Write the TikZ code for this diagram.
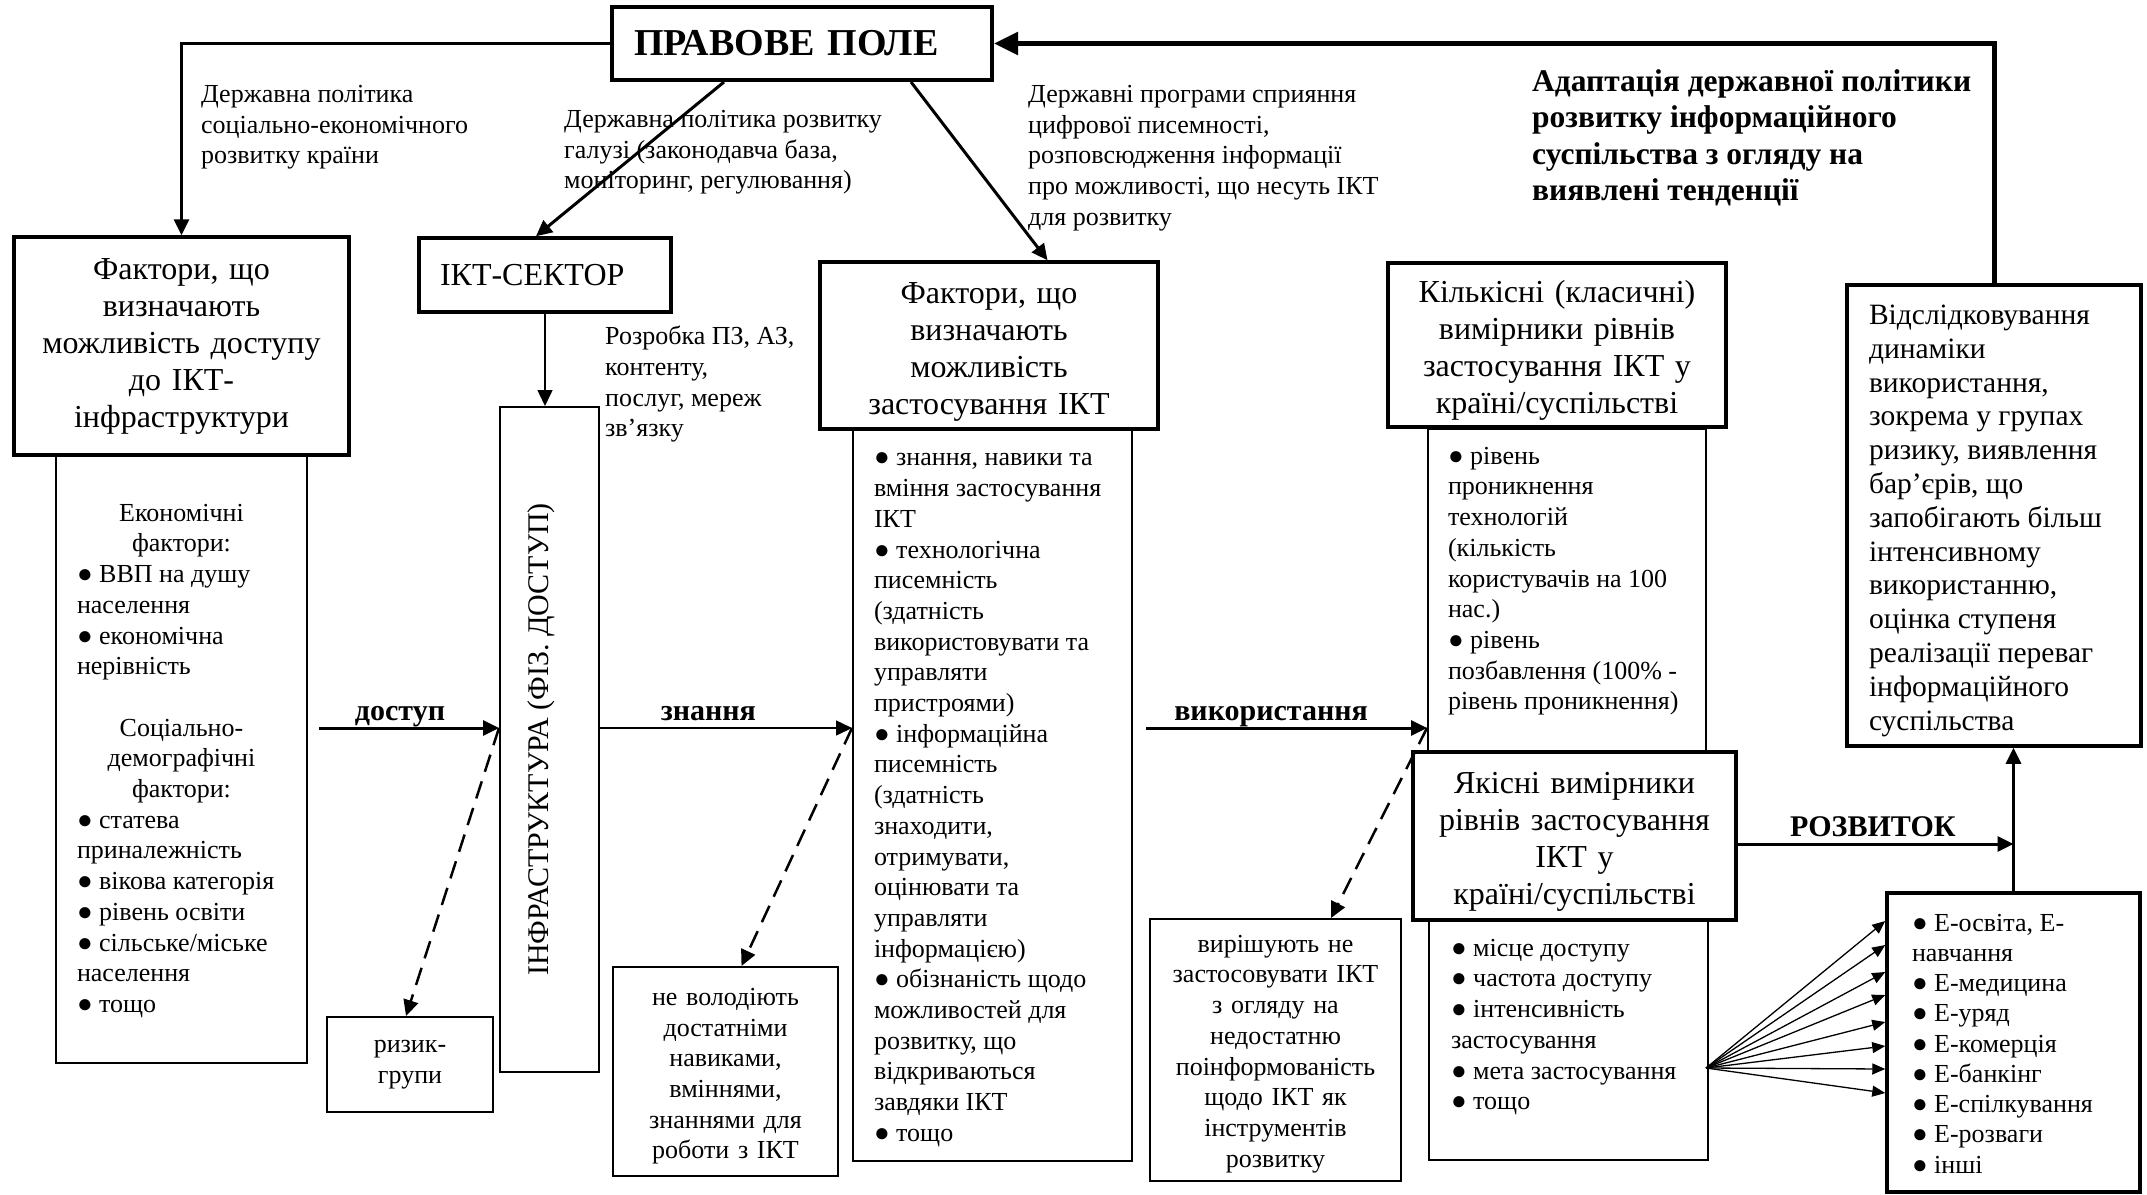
\documentclass[tikz,border=0pt]{standalone}
\usepackage{fontspec}
\setmainfont{Liberation Serif}
\usepackage{graphicx}
\usetikzlibrary{arrows.meta}
\newcommand{\fsz}[2]{\fontsize{#1}{#2}\selectfont}
\newcommand{\topblock}[5]{\parbox[c][#1pt][t]{#2pt}{\raggedright\leftskip=#3pt\relax\vspace*{#4pt}#5}}
\newcommand{\lowr}{\rule{0pt}{33pt}}
\begin{document}
\begin{tikzpicture}[x=1pt,y=-1pt,
  thickbox/.style={draw,line width=3.5pt,inner sep=0pt,align=center},
  thinbox/.style={draw,line width=2pt,inner sep=0pt,align=center},
  bodytxt/.style={font=\fsz{26}{30.7}},
  headtxt/.style={font=\fsz{32}{37}},
  lab/.style={anchor=north west,inner sep=0pt,align=left,font=\fsz{26}{30.7}},
  flowlab/.style={anchor=base,yshift=8pt,inner sep=0pt,font=\bfseries\fsz{30}{34}},
  arrtip/.style={-{Triangle[length=16pt,width=15pt]}},
  arr/.style={arrtip,line width=3pt},
  thinarr/.style={arrtip,line width=1.5pt},
  dasharr/.style={arrtip,line width=2.5pt,dash pattern=on 18pt off 10pt},
  fanarr/.style={-{Triangle[length=13pt,width=11pt]},line width=1.3pt},
  backarr/.style={-{Triangle[length=24pt,width=22pt]},line width=5pt}]
\useasboundingbox (0,0) rectangle (2147,1194);

\node[thickbox,line width=4pt,minimum width=380,minimum height=73,text width=336,align=left,inner xsep=22pt,font=\bfseries\fsz{38}{42}] (pravo) at (802,43.5) {ПРАВОВЕ ПОЛЕ};

\node[thickbox,minimum width=335,minimum height=218,text width=320,headtxt] (acchead) at (181.5,346) {Фактори, що\\визначають\\можливість доступу\\до ІКТ-\\інфраструктури};
\node[thinbox,bodytxt] (accbody) at (181.5,759) {\topblock{608}{251}{21}{49}{{\centering Економічні\\фактори:\par}● ВВП на душу\\населення\\● економічна\\нерівність\par\vspace{30.7pt}{\centering Соціально-\\демографічні\\фактори:\par}● статева\\приналежність\\● вікова категорія\\● рівень освіти\\● сільське/міське\\населення\\● тощо}};

\node[thickbox,minimum height=74,text width=210,align=left,inner xsep=21pt,font=\fsz{32}{36}] (ikt) at (545,275) {ІКТ-СЕКТОР};
\node[thinbox,minimum width=99,minimum height=665,font=\fsz{30}{34}] (infra) at (549.5,739.5) {\rotatebox{90}{ІНФРАСТРУКТУРА (ФІЗ. ДОСТУП)}\hspace{16pt}};
\node[thinbox,minimum width=166,minimum height=95,text width=150,bodytxt] (rizyk) at (410,1064.5) {ризик-\\групи};

\node[thickbox,minimum width=338,minimum height=167,text width=320,headtxt] (zasthead) at (989,345.5) {\lowr Фактори, що\\визначають\\можливість\\застосування ІКТ};
\node[thinbox,bodytxt] (zastbody) at (992.5,795) {\topblock{732}{279}{21}{24}{● знання, навики та\\вміння застосування\\ІКТ\\● технологічна\\писемність\\(здатність\\використовувати та\\управляти\\пристроями)\\● інформаційна\\писемність\\(здатність\\знаходити,\\отримувати,\\оцінювати та\\управляти\\інформацією)\\● обізнаність щодо\\можливостей для\\розвитку, що\\відкриваються\\завдяки ІКТ\\● тощо}};
\node[thinbox,minimum width=225,minimum height=209,text width=215,bodytxt] (nevolod) at (725.5,1071.5) {\rule{0pt}{27pt}не володіють\\достатніми\\навиками,\\вміннями,\\знаннями для\\роботи з ІКТ};

\node[thickbox,minimum width=338,minimum height=164,text width=320,headtxt] (kilkhead) at (1557,345) {\lowr Кількісні (класичні)\\вимірники рівнів\\застосування ІКТ у\\країні/суспільстві};
\node[thinbox,bodytxt] (kilkbody) at (1567,591) {\topblock{324}{278}{20}{18}{● рівень\\проникнення\\технологій\\(кількість\\користувачів на 100\\нас.)\\● рівень\\позбавлення (100\% -\\рівень проникнення)}};
\node[thickbox,fill=white,minimum width=323,minimum height=168,text width=310,headtxt] (yakhead) at (1574.5,836) {\lowr Якісні вимірники\\рівнів застосування\\ІКТ у\\країні/суспільстві};
\node[thinbox,bodytxt] (yakbody) at (1568.5,1040) {\topblock{240}{279}{22}{19}{● місце доступу\\● частота доступу\\● інтенсивність\\застосування\\● мета застосування\\● тощо}};
\node[thinbox,minimum width=251,minimum height=262,text width=240,bodytxt] (vyrish) at (1275.5,1050) {\rule{0pt}{25pt}вирішують не\\застосовувати ІКТ\\з огляду на\\недостатню\\поінформованість\\щодо ІКТ як\\інструментів\\розвитку};

\node[thickbox,font=\fsz{29.5}{33.8}] (vidsl) at (1994,515.5) {\topblock{461}{294}{22}{20}{Відслідковування\\динаміки\\використання,\\зокрема у групах\\ризику, виявлення\\бар’єрів, що\\запобігають більш\\інтенсивному\\використанню,\\оцінка ступеня\\реалізації переваг\\інформаційного\\суспільства}};
\node[thickbox,font=\fsz{26}{30.25}] (ebox) at (2013.5,1042.5) {\topblock{299}{253}{25}{21}{● Е-освіта, Е-\\навчання\\● Е-медицина\\● Е-уряд\\● Е-комерція\\● Е-банкінг\\● Е-спілкування\\● Е-розваги\\● інші}};

\node[lab] (lpolit) at (201,85) {Державна політика\\соціально-економічного\\розвитку країни};
\node[lab] (lgaluz) at (564,110) {Державна політика розвитку\\галузі (законодавча база,\\моніторинг, регулювання)};
\node[lab] (lprog) at (1028,85) {Державні програми сприяння\\цифрової писемності,\\розповсюдження інформації\\про можливості, що несуть ІКТ\\для розвитку};
\node[lab,font=\bfseries\fsz{31.5}{36.5}] (ladapt) at (1532,69) {Адаптація державної політики\\розвитку інформаційного\\суспільства з огляду на\\виявлені тенденції};
\node[lab] (lrozr) at (605,326) {Розробка ПЗ, АЗ,\\контенту,\\послуг, мереж\\зв’язку};

\draw[arr] (pravo.west) -| (acchead.north);
\draw[arr] ([xshift=-78pt]pravo.south) -- ([xshift=-9pt]ikt.north);
\draw[arr] ([xshift=109pt]pravo.south) -- ([xshift=58.5pt]zasthead.north);
\draw[backarr] (vidsl.north) |- (pravo.east);
\draw[thinarr] (ikt.south) -- (ikt.south |- infra.north);

\coordinate (dstart) at (319,728);
\coordinate (dtip) at (dstart -| infra.west);
\coordinate (ztip) at (dstart -| zastbody.west);
\coordinate (vstart) at (1146,728);
\coordinate (vtip) at (vstart -| kilkbody.west);
\draw[arr] (dstart) -- (dtip) node[flowlab,pos=.45] {доступ};
\draw[thinarr] (dstart -| infra.east) -- (ztip) node[flowlab,pos=.43] {знання};
\draw[arr] (vstart) -- (vtip) node[flowlab,pos=.445] {використання};
\draw[dasharr] (dtip) -- ([xshift=-4pt]rizyk.north);
\draw[dasharr] (ztip) -- ([xshift=16pt]nevolod.north);
\draw[dasharr] (vtip) -- ([xshift=55.5pt]vyrish.north);

\coordinate (rz) at ([yshift=-8pt]yakhead.east);
\draw[arr] (rz) -- (rz -| ebox.north) node[flowlab,pos=.49] {РОЗВИТОК};
\draw[arr] (ebox.north) -- (ebox.north |- vidsl.south);
\coordinate (fan) at (1706,1068);
\foreach \ty in {921,945,972,995,1022,1046,1069,1093}
  \draw[fanarr] (fan) -- (ebox.west |- 0,\ty);
\end{tikzpicture}
\end{document}
